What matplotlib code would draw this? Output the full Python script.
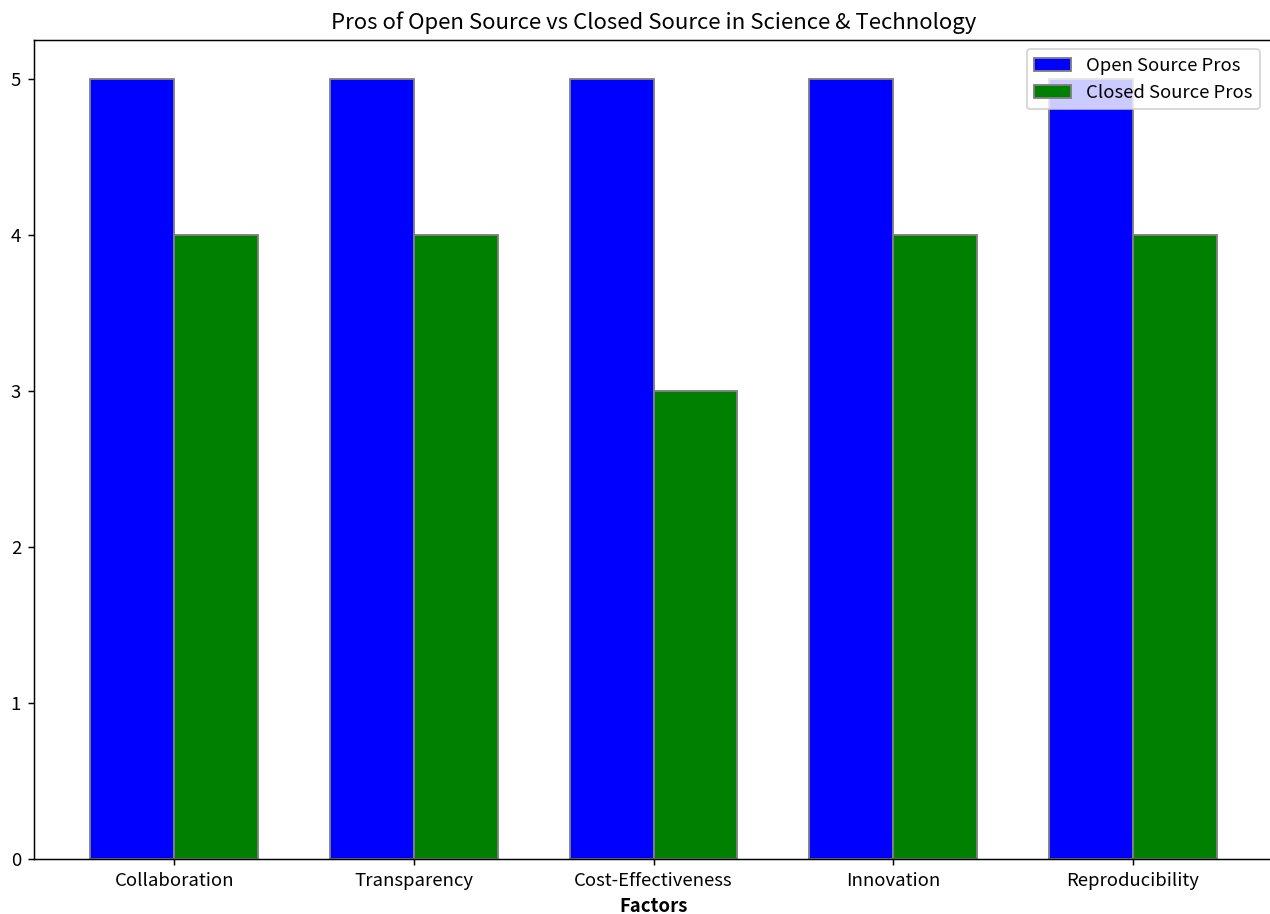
import numpy as np
import matplotlib.pyplot as plt

plt.rcParams['font.family'] = ['Noto Sans CJK SC', 'DejaVu Sans']

factors = ["Collaboration", "Transparency", "Cost-Effectiveness", "Innovation", "Reproducibility"]
open_source_pros = [5, 5, 5, 5, 5]
closed_source_pros = [4, 4, 3, 4, 4]

bar_width = 0.35
r1 = np.arange(len(factors))
r2 = r1 + bar_width

dpi = 133.33
fig = plt.figure(figsize=(1270 / dpi, 914 / dpi), dpi=dpi)
# axes runs slightly past the right edge of the canvas
ax = fig.add_axes([34 / 1270, 1 - 859 / 914, 1239 / 1270, 819 / 914])
ax.spines["right"].set_visible(False)

ax.bar(r1, open_source_pros, color="blue", width=bar_width, edgecolor="grey", label="Open Source Pros")
ax.bar(r2, closed_source_pros, color="green", width=bar_width, edgecolor="grey", label="Closed Source Pros")

ax.set_xlabel("Factors", fontweight="bold")
ax.set_xticks(r1 + bar_width / 2)
ax.set_xticklabels(factors)
ax.set_title("Pros of Open Source vs Closed Source in Science & Technology")
ax.legend(loc="upper right", bbox_to_anchor=(1.0 - 4 / 1239, 1.0))

fig.savefig("out.png", dpi=dpi)
